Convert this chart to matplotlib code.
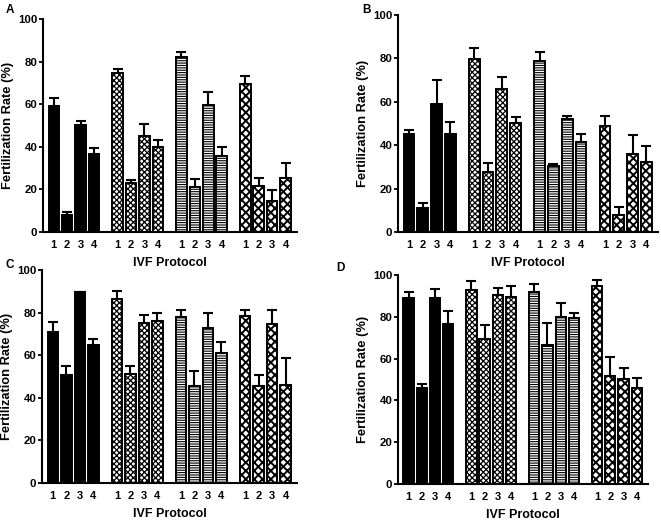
import matplotlib.pyplot as plt
import numpy as np

plt.rcParams['font.family'] = ['Liberation Sans', 'DejaVu Sans']
plt.rcParams['font.weight'] = 'bold'

# IVF protocol labels within each group
protocols = ['1', '2', '3', '4']

# mean fertilization rate (%) per panel: 4 groups x 4 protocols
mean_a = [[59, 7.8, 50.4, 36.6], [74.6, 23, 45.2, 39.7],
          [82.2, 21.1, 59.8, 35.8], [69.5, 21.8, 14.4, 25.4]]
err_a = [[3.7, 1.6, 1.9, 2.8], [1.8, 1.6, 5.7, 3.3],
         [2.3, 3.9, 6.1, 4.1], [3.7, 3.4, 5.5, 7.0]]

mean_b = [[45.2, 11, 58.9, 45.2], [79.6, 27.5, 66, 50.2],
          [79, 30.5, 52.1, 41.3], [48.9, 8, 36, 32.2]]
err_b = [[1.9, 2.3, 11.0, 5.3], [5.1, 4.2, 5.2, 2.7],
         [4.1, 0.8, 1.4, 3.9], [4.6, 3.5, 8.8, 7.5]]

mean_c = [[70.8, 50.6, 89.5, 64.7], [86.2, 51.4, 75.2, 76],
          [77.7, 45.6, 72.9, 61.1], [78.5, 45.6, 74.6, 45.8]]
err_c = [[4.6, 4.3, 0.3, 2.9], [4.1, 3.5, 3.6, 3.6],
         [3.5, 7.1, 6.7, 5.2], [2.7, 5.3, 6.6, 13.1]]

mean_d = [[89.2, 46.1, 89.2, 76.6], [92.8, 69.2, 90.6, 89.6],
          [91.7, 66.5, 80.1, 79.6], [94.9, 51.8, 50.2, 45.8]]
err_d = [[2.7, 1.6, 3.9, 6.2], [4.5, 6.8, 3.2, 5.3],
         [4.0, 10.4, 6.3, 2.4], [2.7, 9.1, 5.5, 4.8]]

# fill style of each group
group_face = ['black', 'white', 'white', 'white']
group_hatch = [None, 'xxxxxx', '-------', 'xxxx']
group_hatch_lw = [0.8, 0.9, 0.8, 1.4]

W, H = 661, 521
# panel boxes in pixels: left, top, right, bottom
boxes = {'A': (43, 19, 297, 232), 'B': (398, 15, 658, 232),
         'C': (42, 270, 297, 483), 'D': (398, 275, 648, 484)}
letters = {'A': (6, 10), 'B': (362, 10), 'C': (5, 265), 'D': (336, 268)}
panels = {'A': (mean_a, err_a), 'B': (mean_b, err_b),
          'C': (mean_c, err_c), 'D': (mean_d, err_d)}

fig = plt.figure(figsize=(W / 100, H / 100), dpi=100)

step = 4.75
for key, (means, errs) in panels.items():
    l, t, r, b = boxes[key]
    ax = fig.add_axes([l / W, 1 - b / H, (r - l) / W, (b - t) / H])
    xs_all = []
    for g in range(4):
        xs = np.arange(4) + g * step
        xs_all.extend(xs)
        plt.rcParams['hatch.linewidth'] = group_hatch_lw[g]
        ax.bar(xs, means[g], width=0.78, color=group_face[g], edgecolor='black',
               linewidth=1.4, hatch=group_hatch[g], zorder=2)
        ax.errorbar(xs, means[g], yerr=[np.zeros(4), errs[g]], fmt='none',
                    ecolor='black', elinewidth=1.5, capsize=3.5, capthick=1.5,
                    zorder=1)
    ax.set_xticks(xs_all)
    ax.set_xticklabels(protocols * 4, fontsize=8, fontweight='bold')
    ax.tick_params(axis='x', length=0, pad=6)
    ax.tick_params(axis='y', length=3, width=1.3, labelsize=8.2, pad=1)
    ax.set_xlim(-0.8, 3 + 3 * step + 0.85)
    ax.set_ylim(0, 100)
    ax.set_yticks([0, 20, 40, 60, 80, 100])
    for lab in ax.get_yticklabels():
        lab.set_fontweight('bold')
    ax.spines['top'].set_visible(False)
    ax.spines['right'].set_visible(False)
    ax.spines['left'].set_linewidth(1.5)
    ax.spines['bottom'].set_linewidth(1.5)
    ax.set_ylabel('Fertilization Rate (%)', fontsize=9.3, fontweight='bold',
                  labelpad=3)
    ax.set_xlabel('IVF Protocol', fontsize=9, fontweight='bold', labelpad=5)
    lx, ly = letters[key]
    fig.text(lx / W, 1 - ly / H, key, fontsize=8.5, fontweight='bold',
             ha='left', va='center')

fig.savefig('out.png', dpi=100)
